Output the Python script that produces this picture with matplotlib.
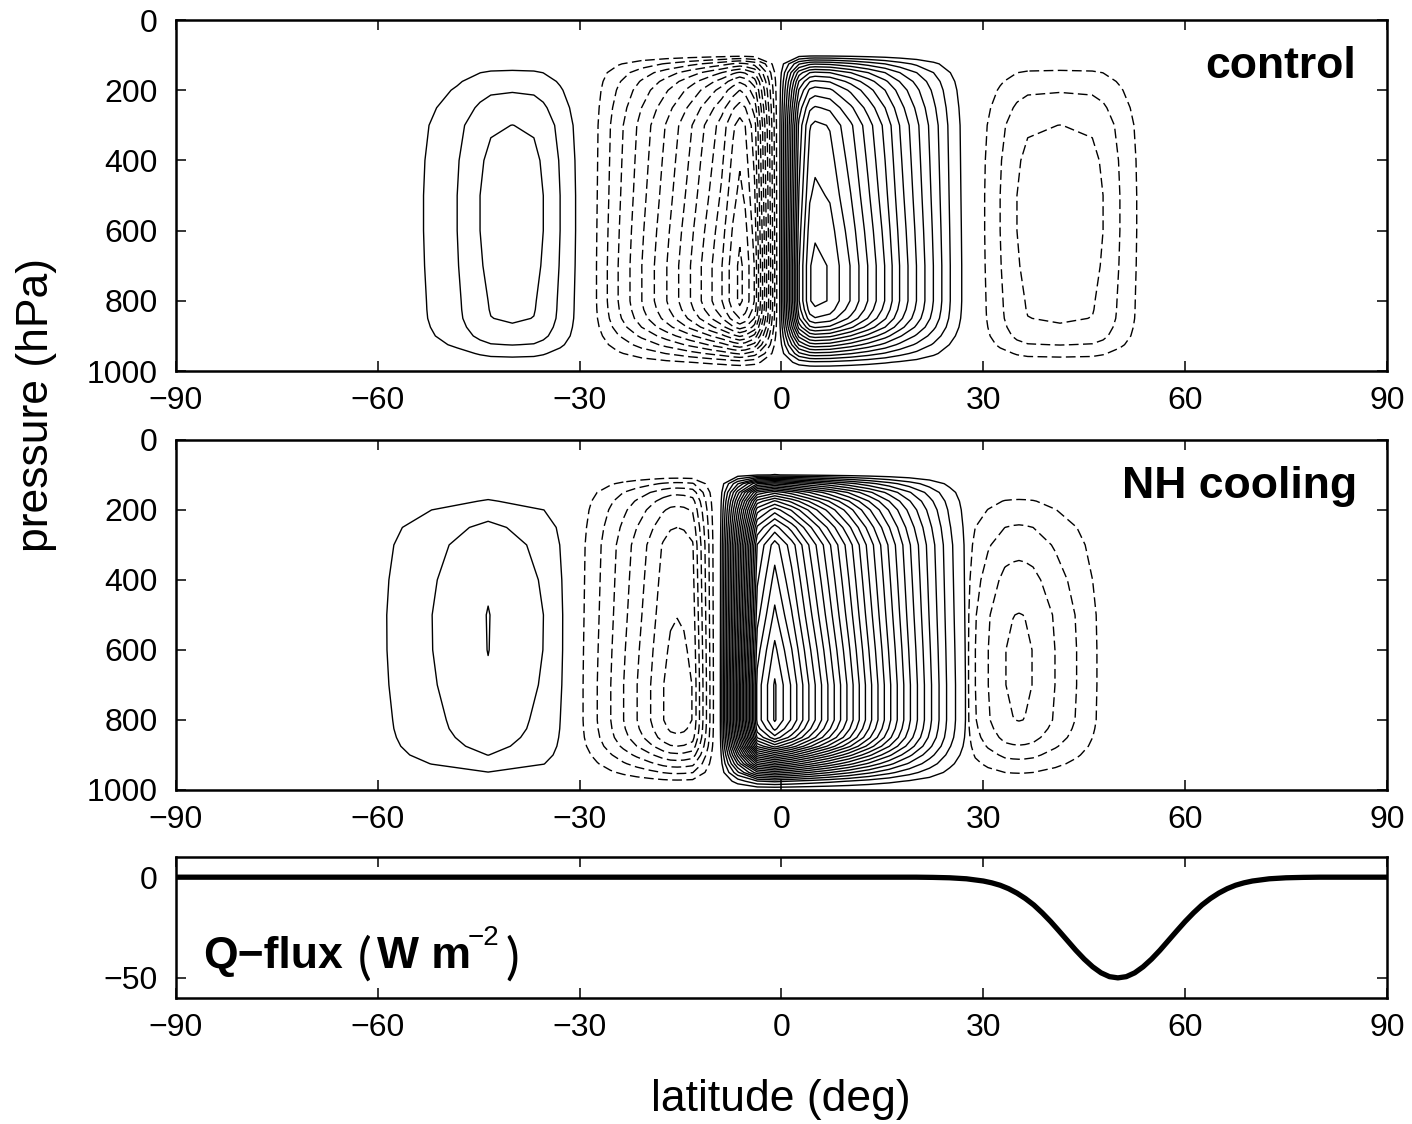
"""Mean meridional streamfunction: control vs NH cooling, with the imposed Q-flux."""

import numpy as np
import matplotlib
matplotlib.use('Agg')
import matplotlib.pyplot as plt

plt.rcParams['font.family'] = ['Liberation Sans', 'DejaVu Sans']
plt.rcParams['lines.dashed_pattern'] = [7.0, 3.2]

# pressure levels (hPa) and vertical structure of each cell type (peak = 1)
P_LEV = [0, 50, 100, 125, 150, 175, 200, 250, 300, 400, 500, 600, 700, 800,
         825, 850, 875, 900, 925, 950, 975, 1000]
G_HADLEY = [0, 0, 0.035, 0.30, 0.50, 0.62, 0.70, 0.80, 0.87, 0.90, 0.93, 0.965, 0.995, 0.995,
            0.965, 0.91, 0.80, 0.64, 0.47, 0.29, 0.11, 0]
G_FERREL_CTRL = [0, 0, 0.0, 0.16, 0.33, 0.45, 0.55, 0.72, 0.86, 0.96, 1.0, 1.0, 0.97, 0.92,
                 0.91, 0.89, 0.83, 0.74, 0.58, 0.36, 0.18, 0]
G_FERREL_SH_COOL = [0, 0, 0, 0.10, 0.23, 0.35, 0.50, 0.74, 0.86, 0.95, 0.995, 0.99, 0.95, 0.88,
                    0.86, 0.82, 0.76, 0.66, 0.51, 0.32, 0.16, 0]
G_FERREL_NH_COOL = [0, 0, 0, 0.05, 0.15, 0.26, 0.34, 0.50, 0.63, 0.82, 0.96, 0.995, 0.995, 0.96,
                    0.90, 0.82, 0.70, 0.55, 0.40, 0.25, 0.12, 0]

# control run: peak streamfunction (contour units) along latitude for each cell
CTRL_SH_FERREL_LAT = [-56, -53.2, -48.2, -44.8, -43.2, -40, -36.8, -35.4, -32.9, -30.6, -28.5]
CTRL_SH_FERREL_PSI = [0, 1, 2, 3, 3.35, 3.5, 3.35, 3, 2, 1, 0]
CTRL_SH_HADLEY_LAT = [-29.5, -27.5, -24.3, -20.8, -17.1, -13.6, -10.4, -8.9, -7.2, -6.2, -5.4, -4.0, -0.4]
CTRL_SH_HADLEY_PSI = [0, -1, -3, -5, -7, -9, -11, -12, -13.6, -14.3, -13.8, -12.0, 0]
CTRL_NH_HADLEY_LAT = [-0.5, 2.6, 4.2, 5.0, 7.2, 8.7, 10.3, 12.9, 15.4, 17.6, 20.1, 22.6, 25.1, 26.8, 28.5]
CTRL_NH_HADLEY_PSI = [0, 13.0, 16.0, 16.4, 16.0, 15.0, 14.0, 12.0, 10.0, 8.0, 6.0, 4.0, 2.0, 1.0, 0]
CTRL_NH_FERREL_LAT = [28.5, 30.2, 32.5, 35.0, 36.6, 41.4, 46.2, 47.8, 50.3, 52.8, 56]
CTRL_NH_FERREL_PSI = [0, -1, -2, -3, -3.35, -3.5, -3.35, -3, -2, -1, 0]

# NH cooling run
COOL_SH_FERREL_LAT = [-61, -58.7, -52, -43.6, -35.3, -32.5, -30.5]
COOL_SH_FERREL_PSI = [0, 1, 2, 3.05, 2, 1, 0]
COOL_SH_HADLEY_LAT = [-31.5, -29.5, -27.4, -25.4, -23.5, -21.5, -19.5, -17.6, -16.5, -15.5, -14.5, -13.2, -9.6]
COOL_SH_HADLEY_PSI = [0, -1, -2, -3, -4, -5, -6, -7, -7.4, -7.5, -7.4, -7, 0]
COOL_EQ_HADLEY_LAT = [-9.3, -6.5, -3.6, -1.0, 1.5, 4.0, 7.0, 10.0, 13.0, 16.0, 19.0, 22.0, 25.0, 27.5, 29.5]
COOL_EQ_HADLEY_PSI = [0, 13.0, 26.5, 29.3, 27.0, 24.2, 21.0, 17.8, 14.5, 11.3, 8.2, 5.3, 2.6, 0.9, 0]
COOL_NH_FERREL_LAT = [26.5, 27.8, 28.8, 30.7, 33.2, 34.4, 35.3, 36.2, 37.4, 40.7, 43.9, 46.9, 49]
COOL_NH_FERREL_PSI = [0, -1, -2, -3, -4, -4.15, -4.2, -4.15, -4, -3, -2, -1, 0]

# imposed ocean heat flux (W m-2)
QFLUX_LAT = [-90, 20, 22.5, 25, 27.5, 30, 31.25, 32.5, 33.75, 35, 36.25, 37.5, 38.75, 40,
             41.25, 42.5, 43.75, 45, 46.25, 47.5, 48.75, 50, 51.25, 52.5, 53.75, 55, 56.25,
             57.5, 58.75, 60, 61.25, 62.5, 63.75, 65, 66.25, 67.5, 68.75, 70, 72.5, 75, 77.5, 80, 90]
QFLUX = [0, 0, -0.1, -0.3, -0.8, -1.9, -2.8, -4.0, -5.7, -7.9, -10.6, -13.8, -17.7, -22.0,
         -26.7, -31.5, -36.3, -40.7, -44.5, -47.5, -49.4, -50.0, -49.4, -47.5, -44.5, -40.7, -36.3,
         -31.5, -26.7, -22.0, -17.7, -13.8, -10.6, -7.9, -5.7, -4.0, -2.8, -1.9, -0.8, -0.3, -0.1, 0, 0]

control_cells = [
    (CTRL_SH_FERREL_LAT, CTRL_SH_FERREL_PSI, G_FERREL_CTRL),
    (CTRL_SH_HADLEY_LAT, CTRL_SH_HADLEY_PSI, G_HADLEY),
    (CTRL_NH_HADLEY_LAT, CTRL_NH_HADLEY_PSI, G_HADLEY),
    (CTRL_NH_FERREL_LAT, CTRL_NH_FERREL_PSI, G_FERREL_CTRL),
]
cooling_cells = [
    (COOL_SH_FERREL_LAT, COOL_SH_FERREL_PSI, G_FERREL_SH_COOL),
    (COOL_SH_HADLEY_LAT, COOL_SH_HADLEY_PSI, G_HADLEY),
    (COOL_EQ_HADLEY_LAT, COOL_EQ_HADLEY_PSI, G_HADLEY),
    (COOL_NH_FERREL_LAT, COOL_NH_FERREL_PSI, G_FERREL_NH_COOL),
]

LABEL_SIZE = 23
TITLE_SIZE = 32
W, H = 1412, 1124


def style_axes(ax):
    for s in ax.spines.values():
        s.set_linewidth(1.8)
    ax.tick_params(direction='in', length=7.2, width=1.1, top=True, right=True,
                   labelsize=LABEL_SIZE)
    ax.tick_params(axis='x', pad=11)
    ax.tick_params(axis='y', pad=13)
    ax.set_xlim(-90, 90)
    ax.set_xticks(np.arange(-90, 91, 30))


def draw_cells(ax, cells):
    for lat, psi, prof in cells:
        psi = np.asarray(psi, dtype=float)
        z = np.outer(prof, psi)
        peak = int(np.abs(psi).max())
        if psi.min() < 0:
            levels = np.arange(-peak, 0)
            ls = 'dashed'
        else:
            levels = np.arange(1, peak + 1)
            ls = 'solid'
        ax.contour(lat, P_LEV, z, levels=levels, colors='k', linewidths=1.0, linestyles=ls)
    ax.set_ylim(1000, 0)
    ax.set_yticks(np.arange(0, 1001, 200))


def px_text(x, y, s, **kw):
    # place text by pixel position (origin top-left)
    fig.text(x / W, 1 - y / H, s, **kw)


fig = plt.figure(figsize=(W / 100, H / 100), dpi=100)
ax1 = fig.add_axes([0.1246, 0.6699, 0.8577, 0.3123])
ax2 = fig.add_axes([0.1246, 0.2972, 0.8577, 0.3114])
ax3 = fig.add_axes([0.1246, 0.1121, 0.8577, 0.1254])

draw_cells(ax1, control_cells)
draw_cells(ax2, cooling_cells)
for ax in (ax1, ax2, ax3):
    style_axes(ax)

ax1.text(0.974, 0.835, 'control', transform=ax1.transAxes, ha='right', va='baseline',
         fontsize=TITLE_SIZE, fontweight='bold')
ax2.text(0.975, 0.834, 'NH cooling', transform=ax2.transAxes, ha='right', va='baseline',
         fontsize=TITLE_SIZE, fontweight='bold')

# Q-flux panel
ax3.plot(QFLUX_LAT, QFLUX, color='k', linewidth=3.8, solid_capstyle='butt',
         solid_joinstyle='round')
ax3.set_ylim(-60, 10)
ax3.set_yticks([0, -50])

# unit label built from pieces: bold text, thin parentheses, small exponent
px_text(203, 968, 'Q\u2212flux', fontsize=TITLE_SIZE, fontweight='bold', va='baseline')
px_text(358, 974, '(', fontsize=37, family=['Lato', 'Liberation Sans'], fontweight='normal',
        va='baseline')
px_text(377, 968, 'W m', fontsize=TITLE_SIZE, fontweight='bold', va='baseline')
px_text(468, 945, '\u22122', fontsize=20, va='baseline')
px_text(505, 974, ')', fontsize=37, family=['Lato', 'Liberation Sans'], fontweight='normal',
        va='baseline')

px_text(37, 405, 'pressure (hPa)', rotation=90, ha='center', va='center', fontsize=TITLE_SIZE)
px_text(781, 1100, 'latitude (deg)', ha='center', va='center', fontsize=TITLE_SIZE)

fig.savefig('out.png', dpi=100)
plt.close(fig)
